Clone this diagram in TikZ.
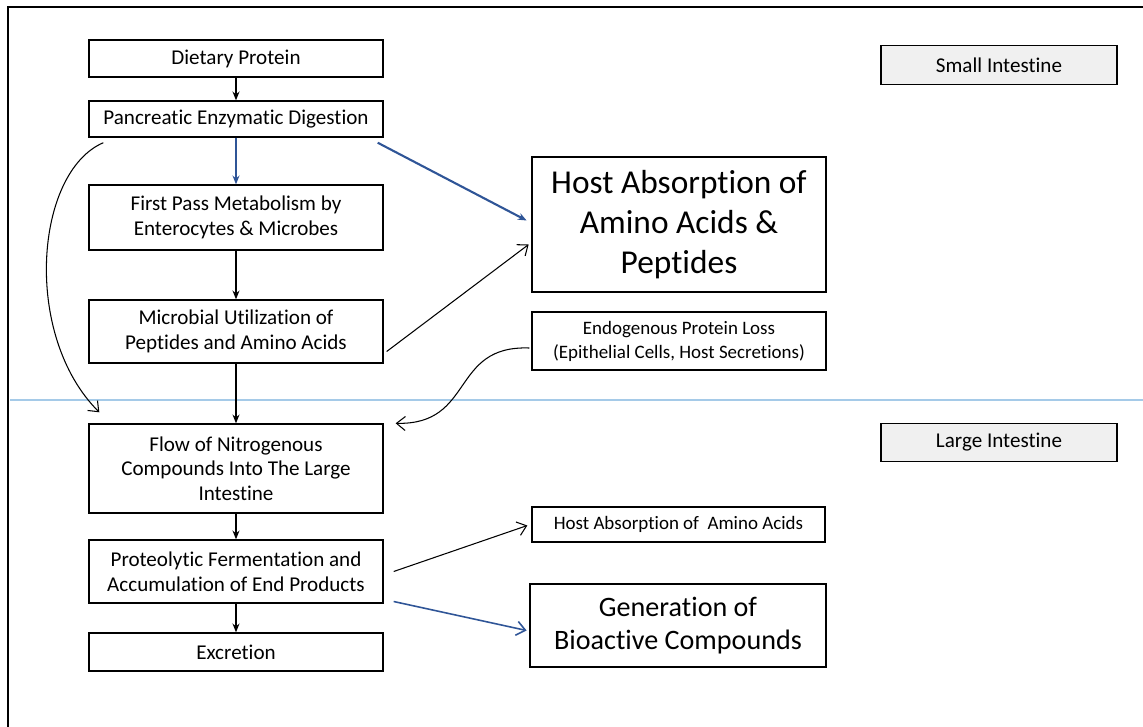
\documentclass[tikz,border=0pt]{standalone}
\usepackage{fontspec}
\setmainfont{Carlito}[Ligatures=NoCommon]
\usepackage{tikz}
\usetikzlibrary{arrows.meta}
\definecolor{arrowblue}{RGB}{47,85,151}
\definecolor{lineblue}{RGB}{165,202,232}
\tikzset{
  box/.style={draw, line width=0.8pt, align=center, minimum width=5.88cm, inner sep=2pt,
    font=\fontsize{12}{14}\selectfont},
  bigbox/.style={box, line width=1.6pt},
  smallbox/.style={box, font=\fontsize{10.8}{13.6}\selectfont},
  zonebox/.style={box, minimum width=4.72cm, minimum height=0.77cm, fill=gray!12},
  arr/.style={-{Stealth[length=5pt,width=4pt]}, line width=0.6pt},
  bluearr/.style={arr, arrowblue},
  openarr/.style={-{Straight Barb[length=5pt,width=8pt]}, line width=0.6pt}
}

\begin{document}
\begin{tikzpicture}[x=0.02cm, y=-0.02cm]
\useasboundingbox (0,0) rectangle (1143,727);
\draw[line width=1.1pt] (8,727) -- (8,7) -- (1143,7);
\draw[lineblue, line width=0.6pt] (10,400) -- (1143,400);

% main column
\node[box, minimum height=0.74cm] (diet) at (236,58.5) {Dietary Protein};
\node[box, minimum height=0.72cm] (panc) at (236,119) {Pancreatic Enzymatic Digestion};
\node[box, minimum height=1.30cm] (first) at (236,217.5) {First Pass Metabolism by\\Enterocytes \& Microbes};
\node[box, minimum height=1.26cm] (micro) at (236,331.5) {Microbial Utilization of\\Peptides and Amino Acids};
\node[box, minimum height=1.78cm] (flow) at (236,468.5) {Flow of Nitrogenous\\Compounds Into The Large\\Intestine};
\node[box, minimum height=1.26cm] (proteo) at (236,571.5) {Proteolytic Fermentation and\\Accumulation of End Products};
\node[box, minimum height=0.76cm] (excr) at (236,652) {Excretion};

% right column
\node[bigbox, minimum height=2.70cm, font=\fontsize{19}{22.7}\selectfont] (hostbig) at (679,224.5) {Host Absorption of\\Amino Acids \&\\Peptides};
\node[smallbox, minimum height=1.16cm] (endo) at (679,341) {Endogenous Protein Loss\\(Epithelial Cells, Host Secretions)};
\node[smallbox, minimum height=0.70cm, minimum width=5.86cm] (hostaa) at (678.5,524.5) {Host Absorption of\ \ Amino Acids};
\node[bigbox, minimum height=1.66cm, minimum width=5.92cm, font=\fontsize{16}{19}\selectfont] (gener) at (678,625.5) {Generation of\\Bioactive Compounds};

% zone labels
\node[zonebox] (small) at (999,65) {Small Intestine};
\node[zonebox] (large) at (999,442.5) {Large Intestine};

\draw[arr] (diet) -- (panc);
\draw[bluearr] (panc) -- (first);
\draw[bluearr, line width=1.2pt] ([shift={(-6,5)}]panc.south east) -- ([shift={(-4,-4)}]hostbig.west);
\draw[openarr] ([shift={(15,5)}]panc.south west) .. controls (35,172) and (22,335) .. ([shift={(11,-11)}]flow.north west);
\draw[arr] (first) -- (micro);
\draw[openarr] ([shift={(3,20)}]micro.east) -- ([shift={(-2,20)}]hostbig.west);
\draw[arr] (micro) -- (flow);
\draw[openarr] ([shift={(-2,7)}]endo.west) .. controls (450,345) and (475,425) .. ([shift={(12,0)}]flow.north east);
\draw[arr] (flow) -- (proteo);
\draw[openarr] ([shift={(10,0)}]proteo.east) -- ([shift={(-4,1)}]hostaa.west);
\draw[openarr, arrowblue, line width=0.9pt] ([shift={(10,30)}]proteo.east) -- ([shift={(-2,5)}]gener.west);
\draw[arr] (proteo) -- (excr);
\end{tikzpicture}
\end{document}
